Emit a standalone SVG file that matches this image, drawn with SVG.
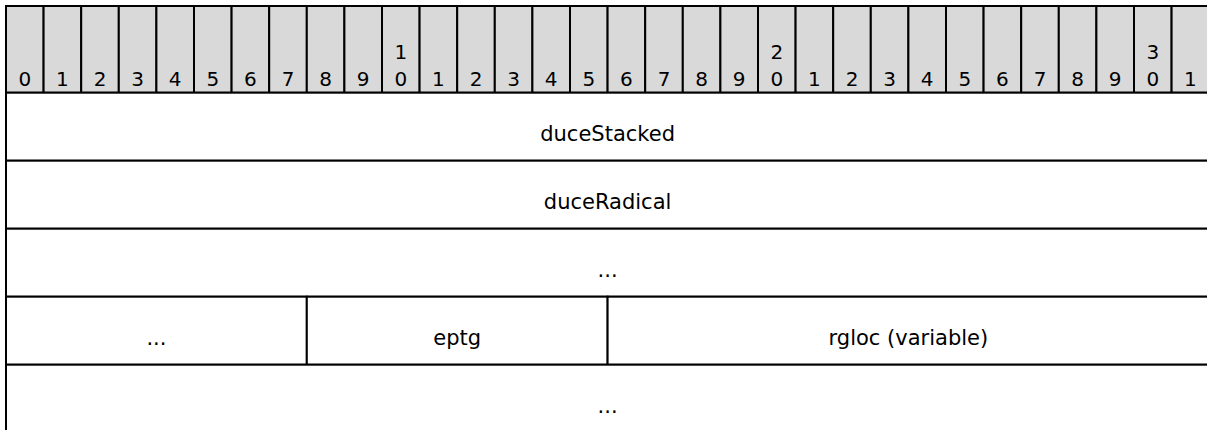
<svg xmlns="http://www.w3.org/2000/svg" width="1207" height="430" viewBox="0 0 1207 430">
<style>
.hd{fill:#d9d9d9;stroke:#000;stroke-width:2}
.fd{fill:#fff;stroke:#000;stroke-width:2}
.n{font-family:"DejaVu Sans",Verdana,sans-serif;font-size:20px;fill:#000;text-anchor:middle}
.t{font-family:"DejaVu Sans",Verdana,sans-serif;font-size:21px;fill:#000;text-anchor:middle}
</style>
<rect width="1207" height="430" fill="#fff"/>
<g id="header">
<rect class="hd" x="6" y="6" width="37.6" height="86.7"/><text class="n" x="24.8" y="86">0</text>
<rect class="hd" x="43.6" y="6" width="37.6" height="86.7"/><text class="n" x="62.4" y="86">1</text>
<rect class="hd" x="81.2" y="6" width="37.6" height="86.7"/><text class="n" x="100" y="86">2</text>
<rect class="hd" x="118.8" y="6" width="37.6" height="86.7"/><text class="n" x="137.6" y="86">3</text>
<rect class="hd" x="156.4" y="6" width="37.6" height="86.7"/><text class="n" x="175.2" y="86">4</text>
<rect class="hd" x="194" y="6" width="37.6" height="86.7"/><text class="n" x="212.8" y="86">5</text>
<rect class="hd" x="231.6" y="6" width="37.6" height="86.7"/><text class="n" x="250.4" y="86">6</text>
<rect class="hd" x="269.2" y="6" width="37.6" height="86.7"/><text class="n" x="288" y="86">7</text>
<rect class="hd" x="306.8" y="6" width="37.6" height="86.7"/><text class="n" x="325.6" y="86">8</text>
<rect class="hd" x="344.4" y="6" width="37.6" height="86.7"/><text class="n" x="363.2" y="86">9</text>
<rect class="hd" x="382" y="6" width="37.6" height="86.7"/><text class="n" x="400.8" y="58.5">1</text><text class="n" x="400.8" y="86">0</text>
<rect class="hd" x="419.6" y="6" width="37.6" height="86.7"/><text class="n" x="438.4" y="86">1</text>
<rect class="hd" x="457.2" y="6" width="37.6" height="86.7"/><text class="n" x="476" y="86">2</text>
<rect class="hd" x="494.8" y="6" width="37.6" height="86.7"/><text class="n" x="513.6" y="86">3</text>
<rect class="hd" x="532.4" y="6" width="37.6" height="86.7"/><text class="n" x="551.2" y="86">4</text>
<rect class="hd" x="570" y="6" width="37.6" height="86.7"/><text class="n" x="588.8" y="86">5</text>
<rect class="hd" x="607.6" y="6" width="37.6" height="86.7"/><text class="n" x="626.4" y="86">6</text>
<rect class="hd" x="645.2" y="6" width="37.6" height="86.7"/><text class="n" x="664" y="86">7</text>
<rect class="hd" x="682.8" y="6" width="37.6" height="86.7"/><text class="n" x="701.6" y="86">8</text>
<rect class="hd" x="720.4" y="6" width="37.6" height="86.7"/><text class="n" x="739.2" y="86">9</text>
<rect class="hd" x="758" y="6" width="37.6" height="86.7"/><text class="n" x="776.8" y="58.5">2</text><text class="n" x="776.8" y="86">0</text>
<rect class="hd" x="795.6" y="6" width="37.6" height="86.7"/><text class="n" x="814.4" y="86">1</text>
<rect class="hd" x="833.2" y="6" width="37.6" height="86.7"/><text class="n" x="852" y="86">2</text>
<rect class="hd" x="870.8" y="6" width="37.6" height="86.7"/><text class="n" x="889.6" y="86">3</text>
<rect class="hd" x="908.4" y="6" width="37.6" height="86.7"/><text class="n" x="927.2" y="86">4</text>
<rect class="hd" x="946" y="6" width="37.6" height="86.7"/><text class="n" x="964.8" y="86">5</text>
<rect class="hd" x="983.6" y="6" width="37.6" height="86.7"/><text class="n" x="1002.4" y="86">6</text>
<rect class="hd" x="1021.2" y="6" width="37.6" height="86.7"/><text class="n" x="1040" y="86">7</text>
<rect class="hd" x="1058.8" y="6" width="37.6" height="86.7"/><text class="n" x="1077.6" y="86">8</text>
<rect class="hd" x="1096.4" y="6" width="37.6" height="86.7"/><text class="n" x="1115.2" y="86">9</text>
<rect class="hd" x="1134" y="6" width="37.6" height="86.7"/><text class="n" x="1152.8" y="58.5">3</text><text class="n" x="1152.8" y="86">0</text>
<rect class="hd" x="1171.6" y="6" width="37.6" height="86.7"/><text class="n" x="1190.4" y="86">1</text>
</g>
<g id="duceStacked"><rect class="fd" x="6" y="92.7" width="1203.2" height="68"/><text class="t" x="607.6" y="141">duceStacked</text></g>
<g id="duceRadical"><rect class="fd" x="6" y="160.7" width="1203.2" height="68"/><text class="t" x="607.6" y="209">duceRadical</text></g>
<g id="row3"><rect class="fd" x="6" y="228.7" width="1203.2" height="68"/><text class="t" x="607.6" y="277">...</text></g>
<g id="row4a"><rect class="fd" x="6" y="296.7" width="300.8" height="68"/><text class="t" x="156.4" y="345">...</text></g>
<g id="eptg"><rect class="fd" x="306.8" y="296.7" width="300.8" height="68"/><text class="t" x="457.2" y="345">eptg</text></g>
<g id="rgloc"><rect class="fd" x="607.6" y="296.7" width="601.6" height="68"/><text class="t" x="908.4" y="345">rgloc (variable)</text></g>
<g id="row5"><rect class="fd" x="6" y="364.7" width="1203.2" height="68"/><text class="t" x="607.6" y="413">...</text></g>
<g id="connectors"/>
</svg>
